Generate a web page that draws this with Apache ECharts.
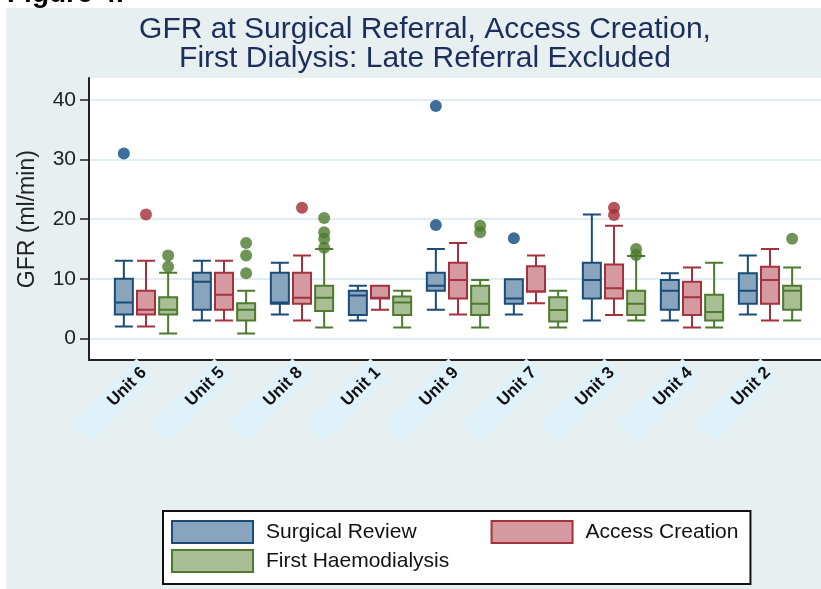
<!DOCTYPE html>
<html><head><meta charset="utf-8">
<script src="https://cdn.jsdelivr.net/npm/echarts@6/dist/echarts.min.js"></script>
<style>html,body{margin:0;padding:0;background:#fff}#c{width:821px;height:589px}</style>
</head><body><div id="c"></div>
<script>
// ---- data ----
const units = ['Unit 6','Unit 5','Unit 8','Unit 1','Unit 9','Unit 7','Unit 3','Unit 4','Unit 2'];
// [lower whisker, Q1, median, Q3, upper whisker]
const surgicalBox = [
  [2, 4, 6, 10, 13], [3, 4.8, 9.5, 11, 13], [4, 5.8, 6, 11, 12.7],
  [3, 3.9, 7.2, 8, 8.8], [4.8, 8, 8.8, 11, 15], [4, 5.8, 6.7, 9.9, 9.9],
  [3, 6.7, 9.8, 12.7, 20.8], [3, 4.8, 8, 9.8, 10.9], [4, 5.8, 8, 10.9, 13.9]
];
const accessBox = [
  [2, 4, 4.8, 8, 13], [3, 4.8, 7.3, 11, 13], [3, 5.8, 6.8, 11, 13.9],
  [4.8, 6.7, 6.8, 8.8, 8.8], [4, 6.7, 9.8, 12.7, 16], [5.9, 7.8, 7.9, 12.1, 13.9],
  [3.9, 6.7, 8.4, 12.4, 18.9], [1.8, 3.9, 6.9, 9.5, 11.9], [3, 5.8, 9.8, 12, 15]
];
const haemoBox = [
  [0.8, 4, 4.8, 6.9, 11], [0.8, 3, 4.8, 5.9, 8], [1.8, 4.6, 6.8, 8.8, 15],
  [1.8, 3.9, 6, 7, 8], [1.8, 3.9, 5.8, 8.8, 9.8], [1.8, 2.8, 4.75, 6.9, 8],
  [3, 3.9, 5.8, 8, 13.8], [1.8, 3, 4.4, 7.3, 12.7], [3, 4.8, 8, 8.8, 11.9]
];
const surgicalOut = [['Unit 6', 31], ['Unit 9', 39], ['Unit 9', 19], ['Unit 7', 16.8]];
const accessOut = [['Unit 6', 20.8], ['Unit 8', 21.9], ['Unit 3', 21.9], ['Unit 3', 20.7]];
const haemoOut = [
  ['Unit 6', 12], ['Unit 6', 13.9],
  ['Unit 5', 10.9], ['Unit 5', 13.9], ['Unit 5', 16],
  ['Unit 8', 15.2], ['Unit 8', 16.7], ['Unit 8', 17.8], ['Unit 8', 20.2],
  ['Unit 9', 17.8], ['Unit 9', 18.9],
  ['Unit 3', 14], ['Unit 3', 15],
  ['Unit 2', 16.7]
];
const seriesNames = ['Surgical Review', 'Access Creation', 'First Haemodialysis'];
const yMin = 0, yMax = 40, yStep = 10;
const titleLines = ['GFR at Surgical Referral, Access Creation,', 'First Dialysis: Late Referral Excluded'];

// ---- style ----
const W = 821, H = 589;
const FONT = '"Liberation Sans", Arial, sans-serif';
const fills = ['#89a5bd', '#d49a9f', '#a8be94'];
const lines = ['#1a4c7a', '#a4313d', '#4d7a2f'];
const dots = ['#0d4a7d', '#a52b37', '#4b792b'];
const BOX = {left: 107, right: 12, top: 100, bottom: 250.7};
const bandW = (W - BOX.left - BOX.right) / units.length;
const avail = bandW * 0.8 - 2;
const gap = avail / 3 * 0.3;
const bw = (avail - gap * 2) / 3;
const step = bw + gap;

const chart = echarts.init(document.getElementById('c'), null, {renderer: 'canvas'});
const boxes = [surgicalBox, accessBox, haemoBox];
const outs = [surgicalOut, accessOut, haemoOut];
const series = [];
boxes.forEach((b, i) => {
  series.push({
    name: seriesNames[i], type: 'boxplot', xAxisIndex: 2, yAxisIndex: 2,
    boxWidth: [18, 18], data: b,
    itemStyle: {color: fills[i], borderColor: lines[i], borderWidth: 2},
    emphasis: {disabled: true}
  });
});
outs.forEach((o, i) => {
  series.push({
    name: seriesNames[i], type: 'scatter', xAxisIndex: 2, yAxisIndex: 2,
    symbol: 'circle', symbolSize: 12, symbolOffset: [(i - 1) * step, 0],
    data: o, itemStyle: {color: dots[i]}, z: 3
  });
});
const legendItem = i => ({name: seriesNames[i], itemStyle: {color: fills[i], borderColor: lines[i], borderWidth: 2}});

const legendText = {fontFamily: FONT, fontSize: 21, color: '#111', padding: [0, 0, 0, 8]};
const option = {
  backgroundColor: '#e7eff1',
  animation: false,
  graphic: [
    {type: 'rect', shape: {x: 0, y: 0, width: W, height: 8}, style: {fill: '#fff'}, silent: true},
    {type: 'rect', shape: {x: 0, y: 0, width: 6, height: H}, style: {fill: '#fff'}, silent: true},
    {type: 'text', x: 7, y: 8, style: {text: 'Figure 4.', font: 'bold 28px ' + FONT, fill: '#000', textVerticalAlign: 'bottom'}},
    {type: 'text', x: 425, y: 44, style: {text: titleLines.join('\n'), font: '30px ' + FONT, fill: '#1c2e5c', textAlign: 'center', textVerticalAlign: 'middle', lineHeight: 29}}
  ],
  grid: [
    {left: 89, right: 0, top: 78, bottom: 229, show: true, backgroundColor: '#fff', borderWidth: 0},
    {left: 89, right: 0, top: BOX.top, bottom: BOX.bottom},
    {left: BOX.left, right: BOX.right, top: BOX.top, bottom: BOX.bottom}
  ],
  xAxis: [
    {gridIndex: 0, type: 'value', min: 0, max: 1, axisLine: {show: true, lineStyle: {color: '#222', width: 2}}, axisTick: {show: false}, axisLabel: {show: false}, splitLine: {show: false}},
    {gridIndex: 1, type: 'value', min: 0, max: 1, show: false},
    {gridIndex: 2, type: 'category', data: units, offset: 21.7,
      axisLine: {show: false}, axisTick: {show: false},
      axisLabel: {rotate: 45, margin: 8, interval: 0, fontFamily: FONT, fontWeight: 'bold', fontSize: 17, color: '#111',
        backgroundColor: '#dff2fa', padding: [5, 3, 5, 42]}}
  ],
  yAxis: [
    {gridIndex: 0, type: 'value', min: 0, max: 1, axisLine: {show: true, lineStyle: {color: '#222', width: 2}}, axisTick: {show: false}, axisLabel: {show: false}, splitLine: {show: false}},
    {gridIndex: 1, type: 'value', min: yMin, max: yMax, interval: yStep,
      name: 'GFR (ml/min)', nameLocation: 'middle', nameGap: 50,
      nameTextStyle: {fontFamily: FONT, fontSize: 23, color: '#222'},
      axisLine: {show: false},
      axisTick: {show: true, length: 9, lineStyle: {color: '#222', width: 1.5}},
      axisLabel: {fontFamily: FONT, fontSize: 21, color: '#222', margin: 13},
      splitLine: {show: true, lineStyle: {color: '#e2edf1', width: 2}}},
    {gridIndex: 2, type: 'value', min: yMin, max: yMax, show: false}
  ],
  legend: [
    {data: [legendItem(0), legendItem(1)], left: 163, top: 511, orient: 'horizontal',
      padding: [9, 12, 40, 8], itemGap: 74, itemWidth: 81, itemHeight: 22, icon: 'rect',
      backgroundColor: '#fff', borderColor: '#111', borderWidth: 2, borderRadius: 0,
      textStyle: legendText, selectedMode: false},
    {data: [legendItem(2)], left: 163, top: 540, z: 6, orient: 'horizontal',
      padding: [9, 0, 0, 8], itemWidth: 81, itemHeight: 22, icon: 'rect',
      textStyle: legendText, selectedMode: false}
  ],
  series: series
};
chart.setOption(option);
</script>
</body></html>
